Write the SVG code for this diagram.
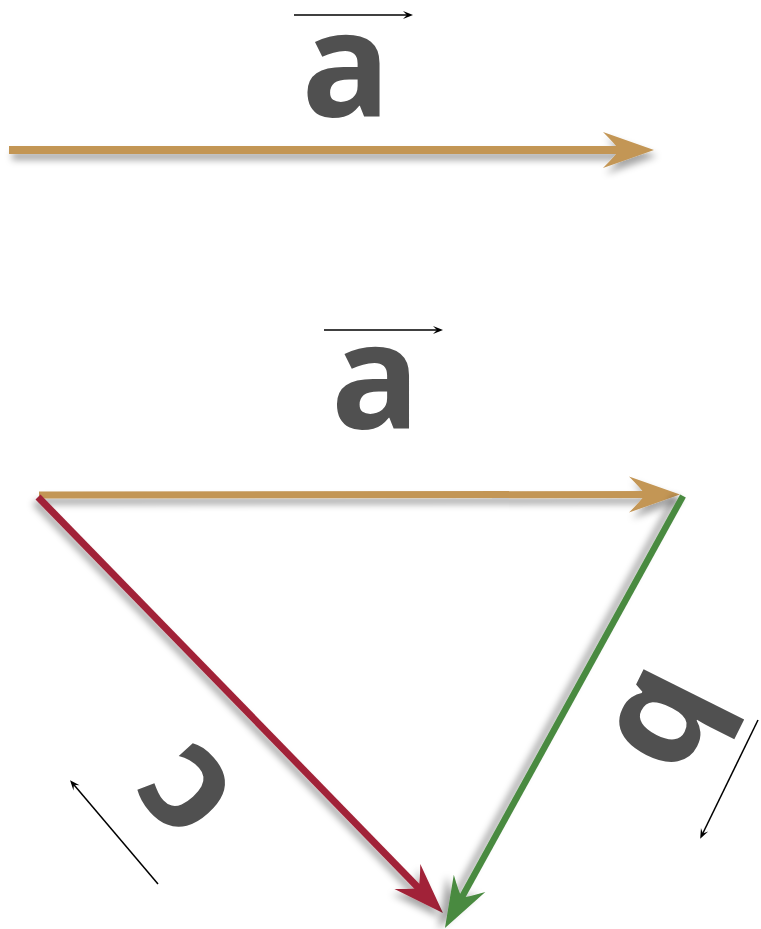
<svg xmlns="http://www.w3.org/2000/svg" width="761" height="929" viewBox="0 0 761 929">
  <style>
    .lbl { font-family: "Open Sans", "DejaVu Sans", sans-serif; font-weight: bold; font-size: 148px; fill: #505050; text-anchor: middle; }
    .vec { fill: none; stroke-linecap: butt; }
    .tan { stroke: #C39655; }
    .red { stroke: #A12338; }
    .green { stroke: #4A8A40; }
    .small { fill: none; stroke: #000; stroke-width: 1.5; marker-end: url(#mSmall); }
  </style>
  <defs>
    <filter id="shTan" filterUnits="userSpaceOnUse" x="0" y="0" width="761" height="929">
      <feGaussianBlur in="SourceAlpha" stdDeviation="3.5"/>
      <feOffset dx="3" dy="6" result="b"/>
      <feFlood flood-color="#000" flood-opacity="0.35"/>
      <feComposite in2="b" operator="in" result="s"/>
      <feMerge><feMergeNode in="s"/><feMergeNode in="SourceGraphic"/></feMerge>
    </filter>
    <filter id="shRed" filterUnits="userSpaceOnUse" x="0" y="0" width="761" height="929">
      <feGaussianBlur in="SourceAlpha" stdDeviation="3.5"/>
      <feOffset dx="-3" dy="5" result="b"/>
      <feFlood flood-color="#000" flood-opacity="0.35"/>
      <feComposite in2="b" operator="in" result="s"/>
      <feMerge><feMergeNode in="s"/><feMergeNode in="SourceGraphic"/></feMerge>
    </filter>
    <filter id="shGreen" filterUnits="userSpaceOnUse" x="0" y="0" width="761" height="929">
      <feGaussianBlur in="SourceAlpha" stdDeviation="3.5"/>
      <feOffset dx="-7" dy="1" result="b"/>
      <feFlood flood-color="#000" flood-opacity="0.35"/>
      <feComposite in2="b" operator="in" result="s"/>
      <feMerge><feMergeNode in="s"/><feMergeNode in="SourceGraphic"/></feMerge>
    </filter>
    <marker id="mTan" markerUnits="userSpaceOnUse" orient="auto" refX="0" refY="0" markerWidth="1" markerHeight="1" overflow="visible">
      <path d="M20,0 L-31,-18 Q-18,-5 -15,0 Q-18,5 -31,18 Z" fill="#C39655"/>
    </marker>
    <marker id="mRed" markerUnits="userSpaceOnUse" orient="auto" refX="0" refY="0" markerWidth="1" markerHeight="1" overflow="visible">
      <path d="M20,0 L-31,-18 Q-18,-5 -15,0 Q-18,5 -31,18 Z" fill="#A12338"/>
    </marker>
    <marker id="mGreen" markerUnits="userSpaceOnUse" orient="auto" refX="0" refY="0" markerWidth="1" markerHeight="1" overflow="visible">
      <path d="M20,0 L-31,-18 Q-18,-5 -15,0 Q-18,5 -31,18 Z" fill="#4A8A40"/>
    </marker>
    <marker id="mSmall" markerUnits="userSpaceOnUse" orient="auto" refX="0" refY="0" markerWidth="1" markerHeight="1" overflow="visible">
      <path d="M3,0 L-7,-4 Q-4,-1 -3,0 Q-4,1 -7,4 Z" fill="#000"/>
    </marker>
  </defs>

  <g id="connectors">
    <line id="vec-a-top" class="vec tan" x1="9" y1="150" x2="634" y2="150" stroke-width="8" marker-end="url(#mTan)" filter="url(#shTan)"/>
    <line id="vec-a" class="vec tan" x1="39" y1="495" x2="660" y2="494.5" stroke-width="7" marker-end="url(#mTan)" filter="url(#shTan)"/>
    <line id="vec-c" class="vec red" x1="38" y1="497" x2="429" y2="898.7" stroke-width="7" marker-end="url(#mRed)" filter="url(#shRed)"/>
    <line id="vec-b" class="vec green" x1="683" y1="496" x2="454.6" y2="910.5" stroke-width="6.5" marker-end="url(#mGreen)" filter="url(#shGreen)"/>
  </g>

  <g id="label-a-top">
    <line class="small" x1="294" y1="15" x2="410" y2="15"/>
    <text class="lbl" x="346" y="117">a</text>
  </g>

  <g id="label-a">
    <line class="small" x1="324" y1="330" x2="440" y2="330"/>
    <text class="lbl" x="375.5" y="429">a</text>
  </g>

  <g id="label-b">
    <line class="small" x1="758" y1="720" x2="701.5" y2="836"/>
    <text class="lbl" transform="translate(678,726) rotate(116.5)" x="0" y="56">b</text>
  </g>

  <g id="label-c">
    <line class="small" x1="158" y1="884" x2="72" y2="782.5"/>
    <text class="lbl" transform="translate(187,790) rotate(-132)" x="0" y="40">c</text>
  </g>
</svg>
